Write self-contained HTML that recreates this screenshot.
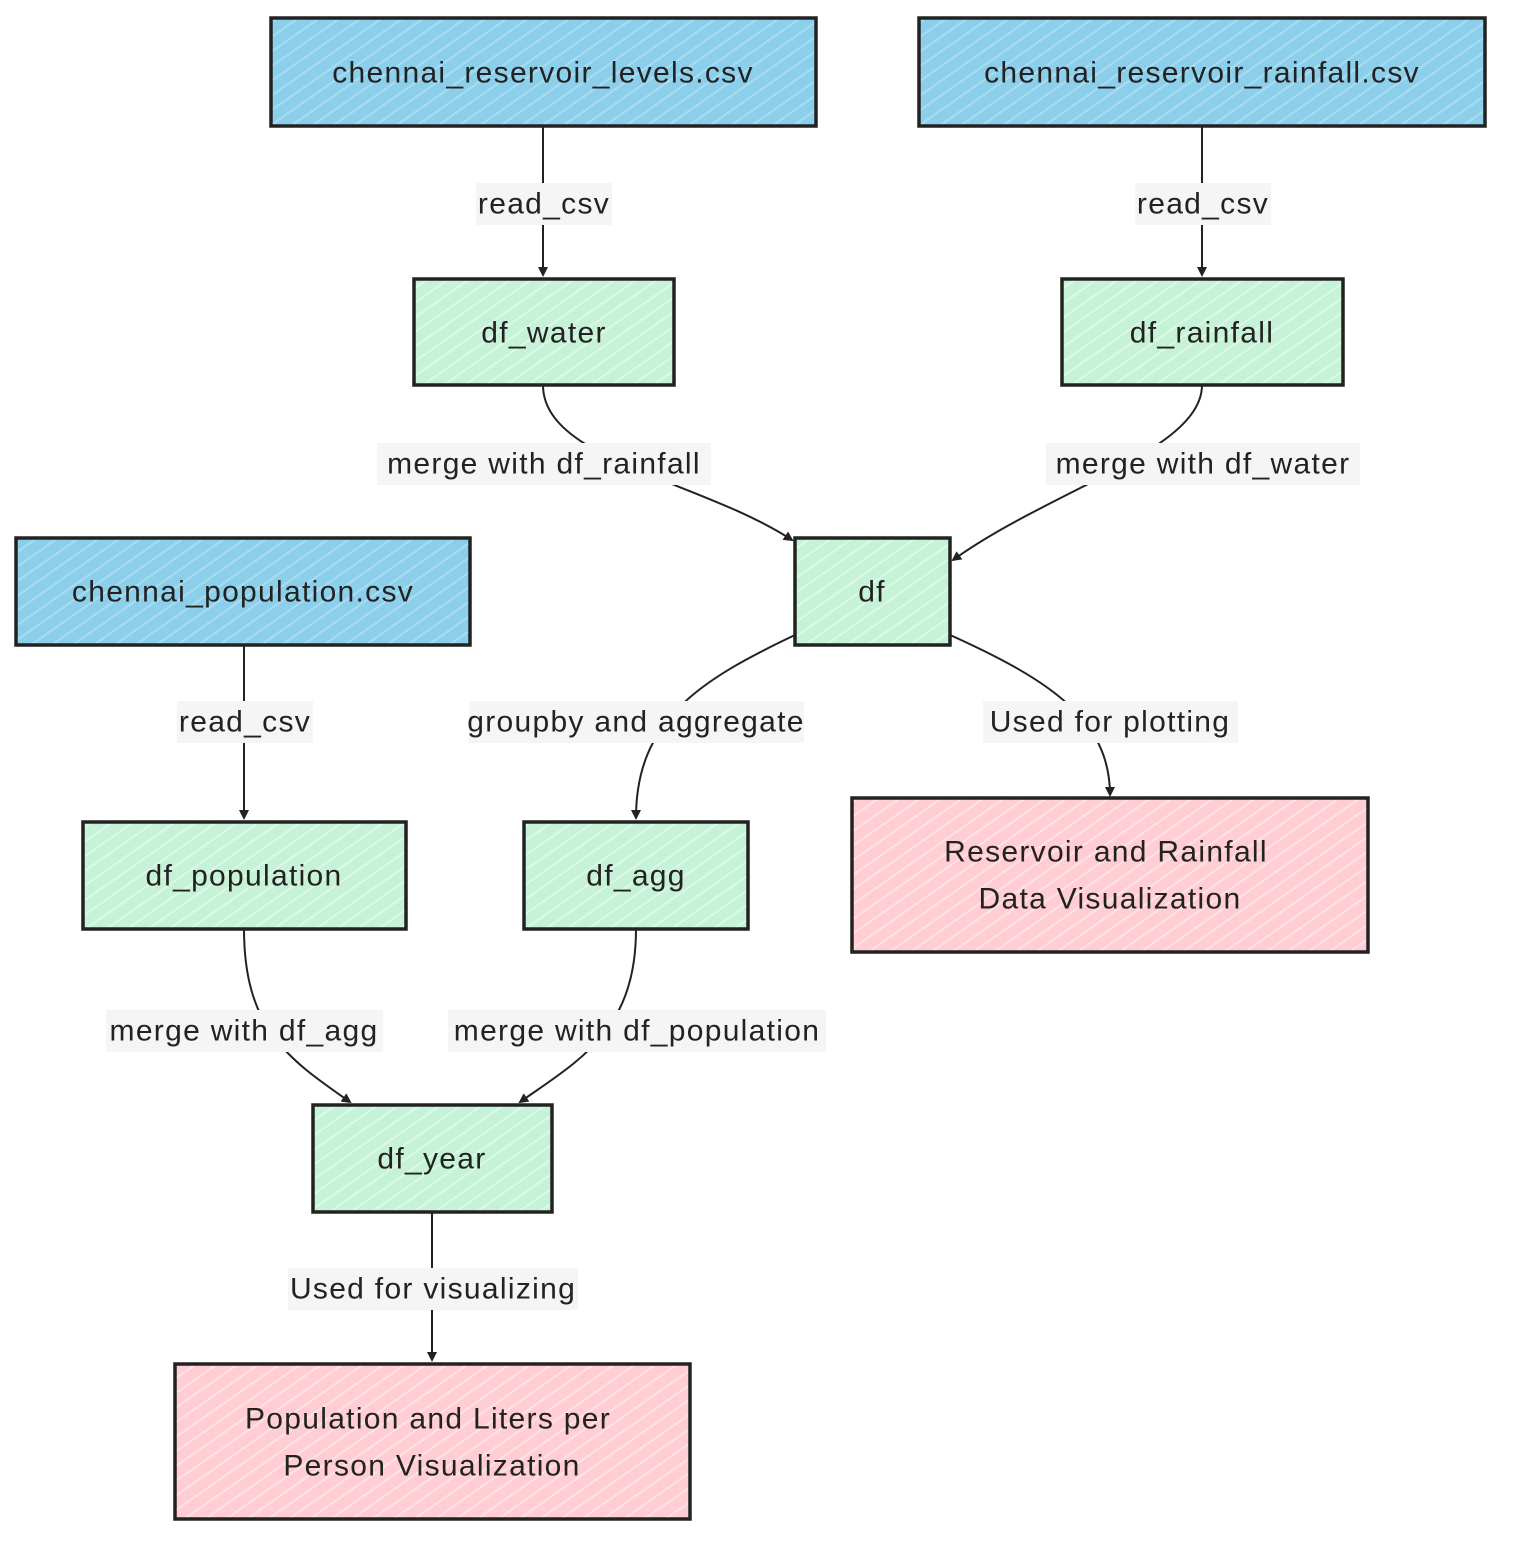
<!DOCTYPE html>
<html><head><meta charset="utf-8"><style>
html,body{margin:0;padding:0;background:#fff}
svg text{font-family:"Liberation Sans",sans-serif;font-size:30px;letter-spacing:1.3px;fill:#222;text-anchor:middle;dominant-baseline:central}
</style></head><body>
<svg width="1520" height="1556" viewBox="0 0 1520 1556" xmlns="http://www.w3.org/2000/svg">
<defs>
<marker id="a" markerWidth="10" markerHeight="10" refX="8" refY="5" orient="auto" markerUnits="userSpaceOnUse"><path d="M0,0 L10,5 L0,10 z" fill="#222"/></marker>
<pattern id="pb" width="12" height="12" patternUnits="userSpaceOnUse" patternTransform="rotate(-35)"><rect width="12" height="12" fill="#8ccfeb"/><line x1="0" y1="6" x2="12" y2="6" stroke="#a9dcf1" stroke-width="2"/></pattern>
<pattern id="pg" width="12" height="12" patternUnits="userSpaceOnUse" patternTransform="rotate(-35)"><rect width="12" height="12" fill="#c6f2d7"/><line x1="0" y1="6" x2="12" y2="6" stroke="#dcf8e7" stroke-width="2"/></pattern>
<pattern id="pp" width="12" height="12" patternUnits="userSpaceOnUse" patternTransform="rotate(-35)"><rect width="12" height="12" fill="#ffcdd3"/><line x1="0" y1="6" x2="12" y2="6" stroke="#ffe2e6" stroke-width="2"/></pattern>
</defs>
<g fill="none" stroke="#222" stroke-width="2" marker-end="url(#a)">
<path d="M543 126 V275"/>
<path d="M1202 126 V275"/>
<path d="M543 385 C543 460 700 480 792 540"/>
<path d="M1202 385 C1202 450 1050 490 953 560"/>
<path d="M244 645 V818"/>
<path d="M795 635 C700 680 636 720 636 818"/>
<path d="M950 635 C1050 680 1110 720 1110 795"/>
<path d="M244 929 C244 1030 290 1060 350 1102"/>
<path d="M636 929 C636 1030 580 1060 520 1102"/>
<path d="M432 1212 V1360"/>
</g>
<g fill="#f5f5f5">
<rect x="476" y="183" width="136" height="42"/>
<rect x="1135" y="183" width="136" height="42"/>
<rect x="377" y="443" width="334" height="42"/>
<rect x="1046" y="443" width="314" height="42"/>
<rect x="177" y="701" width="136" height="42"/>
<rect x="469" y="701" width="335" height="42"/>
<rect x="983" y="701" width="255" height="42"/>
<rect x="106" y="1010" width="277" height="42"/>
<rect x="448" y="1010" width="378" height="42"/>
<rect x="288" y="1268" width="290" height="42"/>
</g>
<g stroke="#222" stroke-width="3.5">
<rect x="271" y="18" width="545" height="108" fill="url(#pb)"/>
<rect x="919" y="18" width="566" height="108" fill="url(#pb)"/>
<rect x="16" y="538" width="454" height="107" fill="url(#pb)"/>
<rect x="414" y="279" width="260" height="106" fill="url(#pg)"/>
<rect x="1062" y="279" width="281" height="106" fill="url(#pg)"/>
<rect x="795" y="538" width="155" height="107" fill="url(#pg)"/>
<rect x="83" y="822" width="323" height="107" fill="url(#pg)"/>
<rect x="524" y="822" width="224" height="107" fill="url(#pg)"/>
<rect x="313" y="1105" width="239" height="107" fill="url(#pg)"/>
<rect x="852" y="798" width="516" height="154" fill="url(#pp)"/>
<rect x="175" y="1364" width="515" height="155" fill="url(#pp)"/>
</g>
<text x="543" y="73">chennai_reservoir_levels.csv</text>
<text x="1202" y="73">chennai_reservoir_rainfall.csv</text>
<text x="243" y="592">chennai_population.csv</text>
<text x="544" y="333">df_water</text>
<text x="1202" y="333">df_rainfall</text>
<text x="872" y="592">df</text>
<text x="244" y="876">df_population</text>
<text x="636" y="876">df_agg</text>
<text x="432" y="1159">df_year</text>
<text x="1106" y="852">Reservoir and Rainfall</text>
<text x="1110" y="899">Data Visualization</text>
<text x="428" y="1419">Population and Liters per</text>
<text x="432" y="1466">Person Visualization</text>
<text x="544" y="204">read_csv</text>
<text x="1203" y="204">read_csv</text>
<text x="544" y="464">merge with df_rainfall</text>
<text x="1203" y="464">merge with df_water</text>
<text x="245" y="722">read_csv</text>
<text x="636" y="722">groupby and aggregate</text>
<text x="1110" y="722">Used for plotting</text>
<text x="244" y="1031">merge with df_agg</text>
<text x="637" y="1031">merge with df_population</text>
<text x="433" y="1289">Used for visualizing</text>
</svg>
</body></html>
